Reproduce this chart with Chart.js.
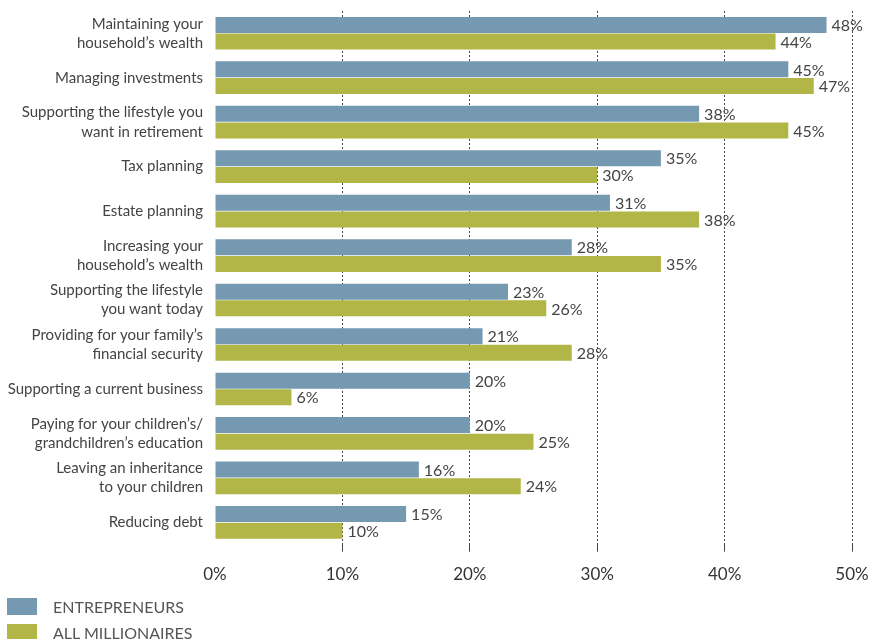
<!DOCTYPE html>
<html>
<head>
<meta charset="utf-8">
<script src="https://cdn.jsdelivr.net/npm/chart.js@4.4.0/dist/chart.umd.min.js"></script>
<style>
    html, body { margin: 0; background: #fff; font-family: Lato, sans-serif; overflow: hidden; width: 869px; height: 639px; }
    #wrap { position: absolute; left: 0; top: 0; width: 869px; height: 604px; }
    #legend { position: absolute; left: 7px; top: 598px; }
    .item { display: flex; align-items: center; height: 17px; margin-bottom: 9px; font-size: 16px; color: #555; }
    .swatch { width: 30px; height: 17px; margin-right: 16px; }
</style>
</head>
<body>
<div id="wrap"><canvas id="chart"></canvas></div>
<div id="legend"></div>

<script>
// Category labels (split into lines as in the original)
let categories = [
    ["Maintaining your", "household’s wealth"],
    "Managing investments",
    ["Supporting the lifestyle you", "want in retirement"],
    "Tax planning",
    "Estate planning",
    ["Increasing your", "household’s wealth"],
    ["Supporting the lifestyle", "you want today"],
    ["Providing for your family’s", "financial security"],
    "Supporting a current business",
    ["Paying for your children’s/", "grandchildren’s education"],
    ["Leaving an inheritance", "to your children"],
    "Reducing debt"
];

// Series values (percent)
let entrepreneurs = [48, 45, 38, 35, 31, 28, 23, 21, 20, 20, 16, 15];
let allMillionaires = [44, 47, 45, 30, 38, 35, 26, 28, 6, 25, 24, 10];

// Axis ticks
let xTicks = [0, 10, 20, 30, 40, 50];

let seriesNames = ["ENTREPRENEURS", "ALL MILLIONAIRES"];
let seriesColors = ["#7499b1", "#b1b646"];

// Draws the percent value just to the right of every bar
const valueLabels = {
    id: 'valueLabels',
    afterDatasetsDraw(chart) {
        let ctx = chart.ctx;
        ctx.save();
        ctx.font = '16px Lato, sans-serif';
        ctx.fillStyle = '#444';
        ctx.textAlign = 'left';
        ctx.textBaseline = 'middle';
        chart.data.datasets.forEach(function (ds, i) {
            let meta = chart.getDatasetMeta(i);
            meta.data.forEach(function (bar, j) {
                ctx.fillText(ds.data[j] + '%', bar.x + 5, bar.y + 1);
            });
        });
        ctx.restore();
    }
};

let ctx = document.getElementById('chart').getContext('2d');

let myChart = new Chart(ctx, {
    type: 'bar',
    data: {
        labels: categories,
        datasets: [
            {
                label: seriesNames[0],
                data: entrepreneurs,
                backgroundColor: seriesColors[0],
                categoryPercentage: 0.75,
                barPercentage: 0.96
            },
            {
                label: seriesNames[1],
                data: allMillionaires,
                backgroundColor: seriesColors[1],
                categoryPercentage: 0.75,
                barPercentage: 0.96
            }
        ]
    },
    options: {
        indexAxis: 'y',
        responsive: true,
        maintainAspectRatio: false,
        animation: false,
        layout: { autoPadding: false, padding: { top: 11, right: 17, bottom: 6, left: 0 } },
        plugins: {
            legend: { display: false },
            tooltip: { enabled: false }
        },
        scales: {
            x: {
                min: 0,
                max: 50,
                afterBuildTicks: function (scale) {
                    scale.ticks = xTicks.map(v => ({ value: v }));
                },
                // keep the plot edges fixed, ignore label overhang
                afterFit: function (scale) {
                    scale.paddingLeft = 0;
                    scale.paddingRight = 0;
                },
                ticks: {
                    callback: v => v + '%',
                    font: { family: 'Lato, sans-serif', size: 17 },
                    color: '#333',
                    padding: 13,
                    maxRotation: 0
                },
                grid: {
                    color: c => (c.tick && c.tick.value === 0) ? 'rgba(0,0,0,0)' : '#444',
                    lineWidth: 1,
                    borderDash: [2, 2],
                    drawTicks: true,
                    tickLength: 7
                },
                border: { display: false, dash: [2, 2] }
            },
            y: {
                afterFit: function (scale) {
                    scale.width = 215;
                    scale.paddingTop = 0;
                    scale.paddingBottom = 0;
                },
                ticks: {
                    font: { family: 'Lato, sans-serif', size: 15, lineHeight: 1.27 },
                    color: '#444',
                    padding: 4
                },
                grid: { display: false },
                border: { display: false }
            }
        }
    },
    plugins: [valueLabels]
});

// Legend stacked below the chart, built from the datasets
let legend = document.getElementById('legend');
myChart.data.datasets.forEach(function (ds) {
    let item = document.createElement('div');
    item.className = 'item';
    let sw = document.createElement('span');
    sw.className = 'swatch';
    sw.style.background = ds.backgroundColor;
    let txt = document.createElement('span');
    txt.innerText = ds.label;
    item.appendChild(sw);
    item.appendChild(txt);
    legend.appendChild(item);
});
</script>
</body>
</html>
